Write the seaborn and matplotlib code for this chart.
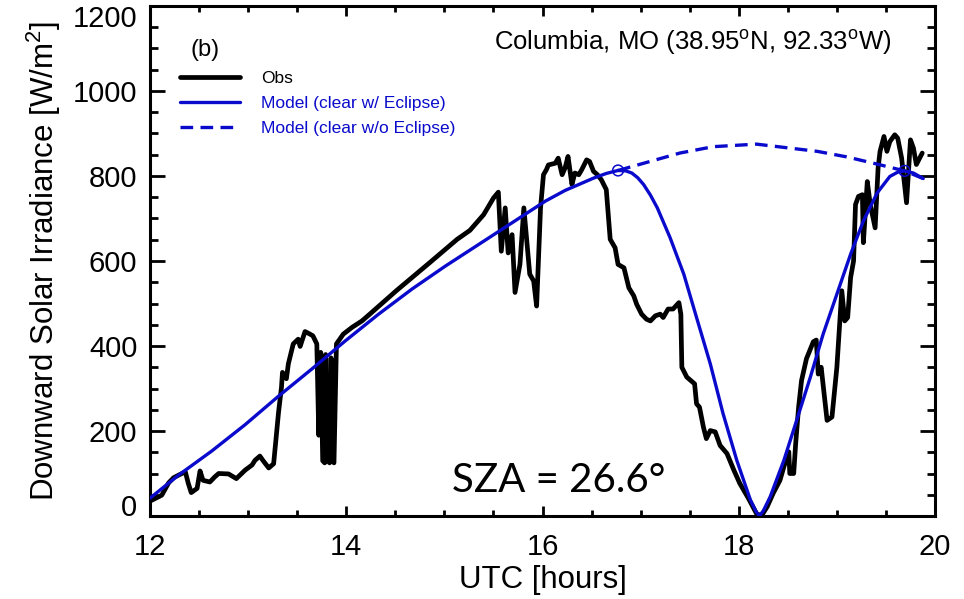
import numpy as np
import pandas as pd
import matplotlib
matplotlib.use("Agg")
import matplotlib.pyplot as plt
from matplotlib.ticker import MultipleLocator
from matplotlib.transforms import ScaledTranslation
import seaborn as sns

# Observed downward solar irradiance (UTC hours, W/m^2)
obs_t = [12.00, 12.06, 12.12, 12.19, 12.24, 12.29, 12.36, 12.39, 12.42, 12.45,
         12.48, 12.51, 12.54, 12.61, 12.66, 12.70, 12.80, 12.88, 12.97, 13.04,
         13.07, 13.12, 13.15, 13.21, 13.26, 13.29, 13.31, 13.34, 13.35, 13.39,
         13.41, 13.46, 13.51, 13.53, 13.58, 13.63, 13.66, 13.70, 13.72, 13.74,
         13.76, 13.78, 13.79, 13.81, 13.83, 13.845, 13.86, 13.875, 13.90, 13.97,
         14.06, 14.16, 14.24, 14.51, 14.85, 15.13, 15.26, 15.40, 15.50, 15.55,
         15.58, 15.62, 15.65, 15.69, 15.72, 15.77, 15.81, 15.87, 15.91, 15.94,
         15.98, 16.01, 16.04, 16.06, 16.13, 16.16, 16.20, 16.23, 16.26, 16.30,
         16.33, 16.37, 16.40, 16.45, 16.48, 16.52, 16.56, 16.60, 16.65, 16.69,
         16.74, 16.77, 16.83, 16.88, 16.93, 16.96, 17.01, 17.06, 17.10, 17.15,
         17.20, 17.23, 17.28, 17.33, 17.39, 17.41, 17.42, 17.47, 17.55, 17.57,
         17.60, 17.64, 17.67, 17.71, 17.76, 17.81, 17.88, 17.95, 18.01, 18.10,
         18.18, 18.23, 18.29, 18.35, 18.42, 18.46, 18.51, 18.52, 18.56, 18.58,
         18.61, 18.64, 18.69, 18.76, 18.79, 18.81, 18.84, 18.90, 18.95, 19.00,
         19.05, 19.08, 19.11, 19.14, 19.17, 19.19, 19.22, 19.26, 19.27, 19.31,
         19.34, 19.39, 19.42, 19.44, 19.48, 19.51, 19.54, 19.59, 19.62, 19.66,
         19.71, 19.75, 19.78, 19.81, 19.87]
obs_v = [35, 42, 49, 78, 90, 96, 104, 77, 55, 60,
         65, 106, 84, 80, 92, 100, 99, 88, 108, 120,
         131, 141, 131, 113, 123, 194, 244, 303, 338, 323,
         358, 405, 416, 399, 434, 428, 424, 405, 190, 385,
         130, 125, 380, 130, 125, 372, 130, 125, 405, 428,
         444, 459, 475, 530, 596, 651, 672, 709, 748, 762,
         623, 725, 619, 662, 526, 592, 725, 569, 553, 494,
         725, 803, 815, 826, 830, 842, 803, 819, 846, 780,
         807, 803, 815, 838, 834, 811, 803, 791, 768, 651,
         631, 592, 584, 537, 518, 498, 475, 463, 459, 471,
         475, 467, 487, 487, 502, 475, 350, 327, 311, 264,
         256, 209, 182, 201, 198, 166, 147, 108, 77, 41,
         6, 0, 22, 53, 84, 116, 151, 100, 100, 170,
         256, 319, 370, 410, 414, 334, 350, 225, 233, 350,
         530, 459, 467, 561, 600, 733, 752, 756, 643, 787,
         733, 678, 819, 858, 893, 858, 881, 897, 889, 842,
         737, 885, 866, 827, 854]

# Clear-sky model including the eclipse
ecl_t = [12.00, 12.29, 12.63, 12.97, 13.31, 13.65, 13.99, 14.33, 14.67, 15.01,
         15.35, 15.69, 16.03, 16.23, 16.40, 16.52, 16.65, 16.77, 16.85, 16.91,
         16.97, 17.03, 17.10, 17.17, 17.30, 17.44, 17.57, 17.71, 17.84, 17.98,
         18.12, 18.18, 18.21, 18.25, 18.32, 18.46, 18.59, 18.73, 18.86, 19.00,
         19.14, 19.27, 19.41, 19.54, 19.62, 19.69, 19.78, 19.88]
ecl_v = [42, 96, 153, 215, 282, 346, 412, 475, 534, 588,
         639, 690, 741, 766, 783, 795, 806, 813, 812, 807,
         796, 780, 755, 725, 655, 569, 467, 358, 241, 131,
         37, 9, 0, 12, 45, 131, 225, 327, 428, 522,
         616, 694, 760, 799, 809, 812, 807, 794]

# Clear-sky model without the eclipse (shown over the eclipse window)
noecl_t = [16.77, 17.40, 17.74, 18.18, 18.80, 19.10, 19.41, 19.69, 19.88]
noecl_v = [813, 854, 869, 875, 858, 845, 828, 812, 794]

# Eclipse start / end points on the model curve
contact_t = [16.77, 19.69]
contact_v = [813, 812]

x_ticks = [12, 14, 16, 18, 20]
y_ticks = [0, 200, 400, 600, 800, 1000, 1200]

BLUE = "#0A0ACC"

sns.set_style("ticks")
plt.rcParams["font.family"] = ["Liberation Sans", "DejaVu Sans"]
plt.rcParams["mathtext.fontset"] = "custom"
plt.rcParams["mathtext.rm"] = "Liberation Sans"
plt.rcParams["mathtext.it"] = "Liberation Sans:italic"
for key in ["text.color", "axes.labelcolor", "xtick.color", "ytick.color",
            "axes.edgecolor"]:
    plt.rcParams[key] = "black"

fig = plt.figure(figsize=(9.64, 5.99), dpi=100)
ax = fig.add_axes([150 / 964, 1 - 516 / 599, 785 / 964, 510 / 599])

df_obs = pd.DataFrame({"t": obs_t, "v": obs_v})
df_ecl = pd.DataFrame({"t": ecl_t, "v": ecl_v})
df_noecl = pd.DataFrame({"t": noecl_t, "v": noecl_v})
df_contact = pd.DataFrame({"t": contact_t, "v": contact_v})

sns.lineplot(data=df_obs, x="t", y="v", ax=ax, color="black", lw=3.4,
             estimator=None, sort=False, label="Obs", zorder=2)
sns.lineplot(data=df_ecl, x="t", y="v", ax=ax, color=BLUE, lw=2.4,
             estimator=None, sort=False, label="Model (clear w/ Eclipse)", zorder=3)
sns.lineplot(data=df_noecl, x="t", y="v", ax=ax, color=BLUE, lw=2.4,
             estimator=None, sort=False, label="Model (clear w/o Eclipse)", zorder=3)
ax.lines[-1].set_dashes((3.8, 2.2))
for ln in ax.lines:
    ln.set_solid_joinstyle("round")
sns.scatterplot(data=df_contact, x="t", y="v", ax=ax, marker="o", s=60,
                facecolor="none", edgecolor=BLUE, linewidth=1.1, zorder=4,
                legend=False)

ax.set_xlim(12, 20)
ax.set_ylim(0, 1200)
ax.set_xticks(x_ticks)
ax.set_yticks(y_ticks)
ax.xaxis.set_minor_locator(MultipleLocator(0.5))
ax.yaxis.set_minor_locator(MultipleLocator(50))

for s in ax.spines.values():
    s.set_linewidth(2.2)
    s.set_color("black")
    s.set_visible(True)

ax.tick_params(axis="both", which="both", direction="in", top=True, right=True,
               width=2.0, color="black", labelsize=21, labelcolor="black")
ax.tick_params(axis="x", which="major", length=7.5, pad=12)
ax.tick_params(axis="x", which="minor", length=4.5)
ax.tick_params(axis="y", which="major", length=11, pad=9)
ax.tick_params(axis="y", which="minor", length=6)

# keep the end labels of the y axis inside the frame height
ylabels = ax.get_yticklabels()
ylabels[0].set_transform(ylabels[0].get_transform()
                         + ScaledTranslation(0, 8 / 72, fig.dpi_scale_trans))
ylabels[-1].set_transform(ylabels[-1].get_transform()
                          + ScaledTranslation(0, -7 / 72, fig.dpi_scale_trans))

ax.set_xlabel("UTC [hours]", fontsize=22.5, labelpad=3)
ax.set_ylabel(r"Downward Solar Irradiance [W/m$\mathregular{^2}$]", fontsize=22.5,
              labelpad=7)

leg = ax.legend(loc="upper left", bbox_to_anchor=(0.0382, 0.8725), frameon=False,
                fontsize=12.5, handlelength=3.45, handletextpad=1.2,
                labelspacing=0.55, borderpad=0, borderaxespad=0)
for txt, col in zip(leg.get_texts(), ["black", BLUE, BLUE]):
    txt.set_color(col)

ax.text(0.070, 0.914, "(b)", transform=ax.transAxes, fontsize=17,
        ha="center", va="center")
ax.text(0.944, 0.914,
        r"Columbia, MO (38.95$\mathregular{^o}$N, 92.33$\mathregular{^o}$W)",
        transform=ax.transAxes, fontsize=18.5, ha="right", va="baseline")
ax.text(0.385, 0.047, "SZA = 26.6°", transform=ax.transAxes, fontsize=29,
        ha="left", va="baseline", family=["Lato", "DejaVu Sans"])

fig.savefig("out.png", dpi=100)
